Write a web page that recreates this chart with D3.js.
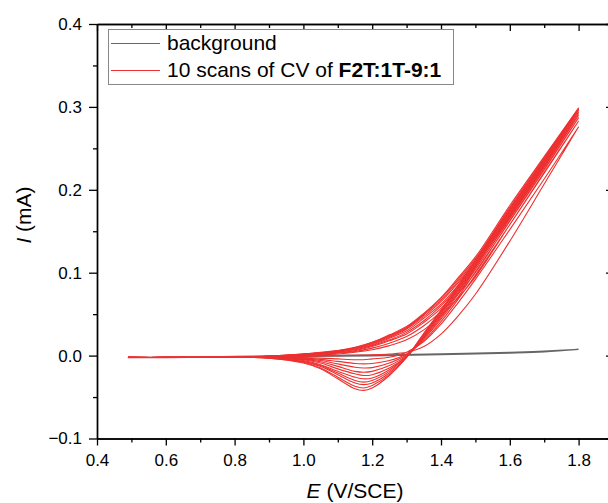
<!DOCTYPE html>
<html>
<head>
<meta charset="utf-8">
<script src="https://cdn.jsdelivr.net/npm/d3@7"></script>
<style>
  body { margin: 0; background: #fff; }
  text { font-family: Arial, "Liberation Sans", sans-serif; }
</style>
</head>
<body>
<div id="chart"></div>
<script>
// potentials (V/SCE) sampled on the forward and reverse sweeps
const fwdE = [0.49, 0.6, 0.7, 0.8, 0.9, 1.0, 1.05, 1.1, 1.15, 1.2, 1.25, 1.3, 1.35, 1.4, 1.45, 1.5, 1.6, 1.7, 1.8]
const revE = [1.8, 1.7, 1.6, 1.5, 1.45, 1.4, 1.35, 1.3, 1.25, 1.2, 1.175, 1.15, 1.1, 1.05, 1.0, 0.9, 0.8, 0.7, 0.6, 0.49]

// current (mA), forward sweep of scans 1..10
const fwdI = [
  [-0.0025, -0.0024, -0.0022, -0.002, -0.0015, -0.001, -0.0005, 0, 0.0005, 0.001, 0.002, 0.004, 0.011, 0.026, 0.048, 0.074, 0.138, 0.207, 0.276],
  [-0.0022, -0.0022, -0.002, -0.0015, -0.001, 0, 0.001, 0.002, 0.004, 0.007, 0.012, 0.019, 0.031, 0.048, 0.07, 0.095, 0.158, 0.221, 0.283],
  [-0.0022, -0.0022, -0.002, -0.0015, -0.0008, 0.0005, 0.0015, 0.003, 0.005, 0.009, 0.015, 0.023, 0.036, 0.053, 0.075, 0.1, 0.163, 0.225, 0.287],
  [-0.0022, -0.0022, -0.002, -0.0015, -0.0008, 0.001, 0.002, 0.0035, 0.006, 0.011, 0.018, 0.026, 0.04, 0.057, 0.079, 0.104, 0.167, 0.229, 0.29],
  [-0.0022, -0.0022, -0.002, -0.0015, -0.0008, 0.001, 0.0025, 0.004, 0.007, 0.012, 0.019, 0.028, 0.042, 0.06, 0.082, 0.107, 0.17, 0.231, 0.292],
  [-0.0022, -0.0022, -0.002, -0.0015, -0.0008, 0.0015, 0.003, 0.0045, 0.008, 0.013, 0.021, 0.03, 0.045, 0.062, 0.085, 0.11, 0.172, 0.233, 0.294],
  [-0.0022, -0.0022, -0.002, -0.0015, -0.0008, 0.0015, 0.003, 0.005, 0.0085, 0.014, 0.022, 0.032, 0.047, 0.065, 0.088, 0.113, 0.175, 0.236, 0.296],
  [-0.0022, -0.0022, -0.002, -0.0015, -0.0008, 0.002, 0.0035, 0.0055, 0.009, 0.015, 0.023, 0.033, 0.049, 0.067, 0.09, 0.115, 0.177, 0.237, 0.297],
  [-0.0022, -0.0022, -0.002, -0.0015, -0.0008, 0.002, 0.0035, 0.006, 0.0095, 0.016, 0.024, 0.034, 0.05, 0.069, 0.092, 0.117, 0.179, 0.239, 0.298],
  [-0.0022, -0.0022, -0.002, -0.0015, -0.0008, 0.002, 0.004, 0.006, 0.01, 0.016, 0.025, 0.035, 0.051, 0.07, 0.094, 0.119, 0.181, 0.24, 0.299]
]

// current (mA), reverse sweep of scans 1..10
const revI = [
  [0.276, 0.213, 0.152, 0.092, 0.064, 0.038, 0.017, 0.004, -0.002, -0.004, -0.005, -0.005, -0.004, -0.003, -0.0025, -0.0022, -0.002, -0.0022, -0.0022, -0.0022],
  [0.283, 0.22, 0.158, 0.097, 0.068, 0.041, 0.018, 0.002, -0.006, -0.0095, -0.01, -0.0095, -0.007, -0.0045, -0.003, -0.0022, -0.002, -0.002, -0.0022, -0.0022],
  [0.287, 0.224, 0.162, 0.101, 0.071, 0.044, 0.02, 0.001, -0.009, -0.0145, -0.015, -0.014, -0.01, -0.006, -0.004, -0.0022, -0.002, -0.002, -0.0022, -0.0022],
  [0.29, 0.227, 0.165, 0.104, 0.074, 0.046, 0.021, 0, -0.012, -0.019, -0.02, -0.019, -0.013, -0.0075, -0.0045, -0.0023, -0.002, -0.002, -0.0022, -0.0022],
  [0.292, 0.229, 0.168, 0.106, 0.076, 0.048, 0.022, -0.001, -0.015, -0.023, -0.024, -0.022, -0.016, -0.009, -0.005, -0.0024, -0.002, -0.002, -0.0022, -0.0022],
  [0.294, 0.231, 0.17, 0.108, 0.078, 0.05, 0.023, -0.001, -0.017, -0.027, -0.028, -0.026, -0.019, -0.011, -0.006, -0.0025, -0.002, -0.002, -0.0022, -0.0022],
  [0.296, 0.234, 0.172, 0.11, 0.08, 0.051, 0.024, -0.001, -0.019, -0.03, -0.032, -0.03, -0.021, -0.012, -0.007, -0.0026, -0.002, -0.002, -0.0022, -0.0022],
  [0.297, 0.235, 0.174, 0.112, 0.082, 0.053, 0.025, -0.002, -0.021, -0.033, -0.035, -0.033, -0.023, -0.013, -0.0075, -0.0028, -0.002, -0.002, -0.0022, -0.0022],
  [0.298, 0.236, 0.175, 0.114, 0.083, 0.054, 0.026, -0.002, -0.023, -0.036, -0.039, -0.037, -0.026, -0.015, -0.008, -0.003, -0.002, -0.002, -0.0022, -0.0022],
  [0.299, 0.237, 0.177, 0.115, 0.085, 0.055, 0.027, -0.002, -0.024, -0.039, -0.042, -0.04, -0.028, -0.016, -0.009, -0.003, -0.002, -0.002, -0.0022, -0.0022]
]

// background CV (no monomer)
const bgFwdE = [0.49, 0.6, 0.8, 1.0, 1.2, 1.4, 1.6, 1.7, 1.8]
const bgFwdI = [-0.002, -0.002, -0.001, 0, 0.0005, 0.002, 0.004, 0.0055, 0.0075]
const bgRevE = [1.8, 1.7, 1.6, 1.4, 1.2, 1.0, 0.8, 0.6, 0.49]
const bgRevI = [0.0075, 0.0045, 0.003, 0.001, -0.0005, -0.001, -0.0015, -0.002, -0.002]

const xTicks = [0.4, 0.6, 0.8, 1.0, 1.2, 1.4, 1.6, 1.8]
const xMinor = [0.5, 0.7, 0.9, 1.1, 1.3, 1.5, 1.7]
const yTicks = [-0.1, 0.0, 0.1, 0.2, 0.3, 0.4]
const yMinor = [-0.05, 0.05, 0.15, 0.25, 0.35]

const Width = 608, Height = 503
const margin = { top: 24, left: 97 }
const plotW = 516, plotH = 414.5

const svg = d3.select("#chart").append("svg")
  .attr("width", Width)
  .attr("height", Height)

const x = d3.scaleLinear().domain([0.4, 1.9]).range([margin.left, margin.left + plotW])
const y = d3.scaleLinear().domain([-0.1, 0.4]).range([margin.top + plotH, margin.top])

const line = d3.line()
  .x(d => x(d[0]))
  .y(d => y(d[1]))
  .curve(d3.curveCatmullRom.alpha(0.5))

// background
const bgPts = bgFwdE.map((e, i) => [e, bgFwdI[i]]).concat(bgRevE.map((e, i) => [e, bgRevI[i]]))
svg.append("path")
  .attr("d", line(bgPts))
  .attr("fill", "none")
  .attr("stroke", "#666")
  .attr("stroke-width", 1.2)

// 10 scans
fwdI.forEach((f, k) => {
  const pts = fwdE.map((e, i) => [e, f[i]]).concat(revE.map((e, i) => [e, revI[k][i]]))
  svg.append("path")
    .attr("d", line(pts))
    .attr("fill", "none")
    .attr("stroke", "#ee3030")
    .attr("stroke-width", 1.1)
})

// axes
const fmt = d3.format(".1f")
const styleAxis = g => {
  g.select(".domain").attr("stroke", "#000").attr("stroke-width", 1.4)
  g.selectAll(".tick line").attr("stroke", "#000").attr("stroke-width", 1.3)
  g.selectAll("text").attr("fill", "#000").style("font-size", "17px").style("font-family", "Arial, 'Liberation Sans', sans-serif")
}

svg.append("g")
  .attr("transform", `translate(0,${margin.top + plotH})`)
  .call(d3.axisBottom(x).tickValues(xTicks).tickFormat(fmt).tickSize(7).tickPadding(8).tickSizeOuter(0))
  .call(styleAxis)
svg.append("g")
  .attr("transform", `translate(0,${margin.top + plotH})`)
  .call(d3.axisBottom(x).tickValues(xMinor).tickFormat("").tickSize(4).tickSizeOuter(0))
  .call(styleAxis)

svg.append("g")
  .attr("transform", `translate(0,${margin.top})`)
  .call(d3.axisTop(x).tickValues(xTicks).tickFormat("").tickSize(-7).tickSizeOuter(0))
  .call(styleAxis)
svg.append("g")
  .attr("transform", `translate(0,${margin.top})`)
  .call(d3.axisTop(x).tickValues(xMinor).tickFormat("").tickSize(-4).tickSizeOuter(0))
  .call(styleAxis)

svg.append("g")
  .attr("transform", `translate(${margin.left},0)`)
  .call(d3.axisLeft(y).tickValues(yTicks).tickFormat(fmt).tickSize(8).tickPadding(7).tickSizeOuter(0))
  .call(styleAxis)
svg.append("g")
  .attr("transform", `translate(${margin.left},0)`)
  .call(d3.axisLeft(y).tickValues(yMinor).tickFormat("").tickSize(4).tickSizeOuter(0))
  .call(styleAxis)

svg.append("g")
  .attr("transform", `translate(${margin.left + plotW},0)`)
  .call(d3.axisRight(y).tickValues(yTicks).tickFormat("").tickSize(-7).tickSizeOuter(0))
  .call(styleAxis)
svg.append("g")
  .attr("transform", `translate(${margin.left + plotW},0)`)
  .call(d3.axisRight(y).tickValues(yMinor).tickFormat("").tickSize(-4).tickSizeOuter(0))
  .call(styleAxis)

// axis titles
const xt = svg.append("text")
  .attr("x", margin.left + plotW / 2)
  .attr("y", 498)
  .attr("text-anchor", "middle")
  .style("font-size", "21px")
xt.append("tspan").style("font-style", "italic").text("E")
xt.append("tspan").text(" (V/SCE)")

const yt = svg.append("text")
  .attr("transform", `translate(31,215) rotate(-90)`)
  .attr("text-anchor", "middle")
  .style("font-size", "21px")
yt.append("tspan").style("font-style", "italic").text("I")
yt.append("tspan").text(" (mA)")

// legend
const legend = svg.append("g")
legend.append("rect")
  .attr("x", 108.5).attr("y", 29.5)
  .attr("width", 345).attr("height", 55)
  .attr("fill", "#fff")
  .attr("stroke", "#888")
  .attr("stroke-width", 1)

const legItems = [
  { color: "#666", y: 43.5 },
  { color: "#ee3030", y: 70.5 }
]
legItems.forEach(d => {
  legend.append("line")
    .attr("x1", 111).attr("x2", 160)
    .attr("y1", d.y).attr("y2", d.y)
    .attr("stroke", d.color)
    .attr("stroke-width", 1)
})
legend.append("text")
  .attr("x", 167).attr("y", 50)
  .style("font-size", "21px")
  .text("background")
const l2 = legend.append("text")
  .attr("x", 167).attr("y", 77)
  .style("font-size", "21px")
l2.append("tspan").text("10 scans of CV of ")
l2.append("tspan").style("font-weight", "bold").text("F2T:1T-9:1")
</script>
</body>
</html>
